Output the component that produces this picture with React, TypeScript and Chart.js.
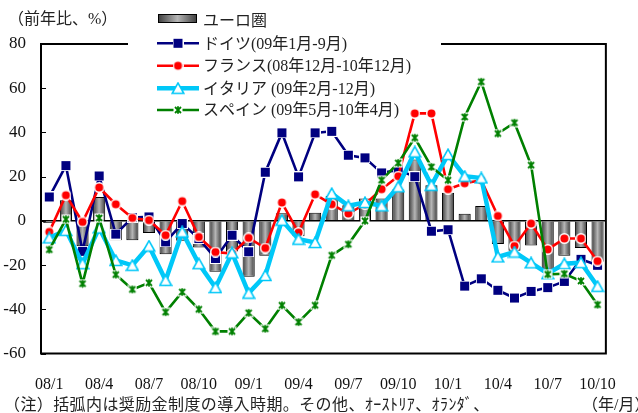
import React, { useEffect, useRef } from 'react';
import { Chart, registerables } from 'chart.js';

Chart.register(...registerables);

const months = [
  '08/1', '08/2', '08/3', '08/4', '08/5', '08/6', '08/7', '08/8', '08/9', '08/10', '08/11', '08/12',
  '09/1', '09/2', '09/3', '09/4', '09/5', '09/6', '09/7', '09/8', '09/9', '09/10', '09/11', '09/12',
  '10/1', '10/2', '10/3', '10/4', '10/5', '10/6', '10/7', '10/8', '10/9', '10/10',
];

const euroArea = [
  -1, 9.3, -11.5, 10.8, -8.8, -8.8, -5.5, -15.1, -9, -12, -23, -14,
  -25.3, -15.8, 3.4, -7, 3.7, 11.2, 7.1, 10.1, 10.1, 14.2, 27.7, 16.1,
  12.7, 3.2, 6.7, -10.5, -13.5, -11.1, -22, -15.8, -12.3, -18.5,
];

const germany = [
  10.8, 25, -13.8, 20.3, -6, 1.5, 1.8, -9.5, -1.2, -8, -17, -6.5,
  -14, 22, 39.8, 19.9, 39.8, 40.5, 29.7, 28.5, 21.7, 23, 20, -4.7,
  -4, -29.5, -26.2, -31.4, -34.9, -31.9, -30.2, -27.4, -17.4, -20.1,
];

const france = [
  -5, 11.6, -0.5, 15.1, 7.5, 1.3, 0.3, -6.5, 8.9, -7.3, -14.1, -14.8,
  -7.7, -12.3, 8.3, -5.3, 12, 7.5, 3.3, 7.5, 14.3, 20.2, 48.6, 48.6,
  14.3, 17, 18.4, 2.2, -11.4, -1.2, -12.9, -8, -8, -18.2,
];

const italy = [
  -7.7, -4.3, -19.4, -3.2, -17.9, -20.1, -11.4, -26.9, -5, -19.4, -30.2, -14.5,
  -32.7, -24.7, 0.3, -8.3, -9.8, 12.4, 6.8, 8.3, 6.8, 15.4, 31.2, 16.1,
  30, 20.2, 19.4, -16.3, -14.1, -19, -23.9, -19.4, -18.9, -29.6,
];

const spain = [
  -13, 0.7, -28.4, 1.3, -24.3, -31, -28, -41.3, -32.2, -40, -50, -50,
  -41.6, -48.8, -38.2, -45.8, -38.2, -15.6, -10.6, 0, 18.4, 26.2, 37.6, 24.4,
  18.4, 47, 62.9, 39.5, 44.4, 25.2, -24.2, -23.9, -27.2, -37.9,
];

const legendLabels = [
  'ユーロ圏',
  'ドイツ(09年1月-9月)',
  'フランス(08年12月-10年12月)',
  'イタリア (09年2月-12月)',
  'スペイン (09年5月-10年4月)',
];

const NAVY = '#000080';
const RED = '#ff0000';
const CYAN = '#00c8f8';
const GREEN = '#008000';
const FONT = '"Liberation Serif", "Times New Roman", "Noto Sans CJK JP", serif';

function mk(w: number, h: number, draw: (c: CanvasRenderingContext2D) => void) {
  const cv = document.createElement('canvas');
  cv.width = w;
  cv.height = h;
  const c = cv.getContext('2d') as CanvasRenderingContext2D;
  draw(c);
  return cv;
}

function makeMarkers() {
  const square = mk(11, 11, (c) => {
    c.fillStyle = '#fff';
    c.fillRect(0, 0, 11, 11);
    c.fillStyle = NAVY;
    c.fillRect(1, 1, 9, 9);
  });
  const circle = mk(11, 11, (c) => {
    c.fillStyle = '#fff';
    c.beginPath();
    c.arc(5.5, 5.5, 5.5, 0, Math.PI * 2);
    c.fill();
    c.fillStyle = RED;
    c.beginPath();
    c.arc(5.5, 5.5, 4, 0, Math.PI * 2);
    c.fill();
  });
  const triangle = mk(14, 13, (c) => {
    c.beginPath();
    c.moveTo(7, 1.2);
    c.lineTo(12.8, 11.5);
    c.lineTo(1.2, 11.5);
    c.closePath();
    c.fillStyle = '#fff';
    c.fill();
    c.strokeStyle = CYAN;
    c.lineWidth = 1.6;
    c.stroke();
  });
  const star = mk(10, 10, (c) => {
    c.fillStyle = '#fff';
    c.fillRect(0.5, 0.5, 9, 9);
    c.strokeStyle = GREEN;
    c.lineWidth = 1.8;
    c.beginPath();
    c.moveTo(2, 2);
    c.lineTo(8, 8);
    c.moveTo(8, 2);
    c.lineTo(2, 8);
    c.moveTo(5, 1.2);
    c.lineTo(5, 8.8);
    c.stroke();
  });
  return { square, circle, triangle, star };
}

function barGradient(ctx: CanvasRenderingContext2D, x0: number, x1: number): any {
  if (!isFinite(x0) || !isFinite(x1) || x1 <= x0) return '#808080';
  const g = ctx.createLinearGradient(x0, 0, x1, 0);
  g.addColorStop(0, '#3c3c3c');
  g.addColorStop(0.5, '#b6b6b6');
  g.addColorStop(1, '#3c3c3c');
  return g;
}

export default function App() {
  const ref = useRef<HTMLCanvasElement | null>(null);

  useEffect(() => {
    document.body.style.margin = '0';
    const canvas = ref.current;
    if (!canvas) return;
    const m = makeMarkers();
    const lineSpecs = [
      { color: NAVY, width: 2.6, marker: m.square },
      { color: RED, width: 2.6, marker: m.circle },
      { color: CYAN, width: 4.5, marker: m.triangle },
      { color: GREEN, width: 2.6, marker: m.star },
    ];

    const decor = {
      id: 'decor',
      beforeDatasetsDraw(chart: any) {
        const { ctx, chartArea: a } = chart;
        const ys = chart.scales.y;
        ctx.save();
        ctx.strokeStyle = '#000';
        ctx.lineWidth = 1;
        ys.ticks.forEach((t: any) => {
          const y = Math.round(ys.getPixelForValue(t.value)) + 0.5;
          ctx.beginPath();
          ctx.moveTo(a.left, y);
          ctx.lineTo(a.left + 5, y);
          ctx.stroke();
        });
        ctx.lineWidth = 2;
        ctx.strokeRect(a.left, a.top, a.right - a.left, a.bottom - a.top);

        // legend
        ctx.fillStyle = '#fff';
        ctx.fillRect(128, 0, 313, 100);
        const rowY = [20.7, 43.3, 65.7, 88.3, 110];
        ctx.fillStyle = barGradient(ctx, 158, 197);
        ctx.fillRect(158, 14, 39, 9);
        ctx.strokeStyle = '#000';
        ctx.lineWidth = 1;
        ctx.strokeRect(158.5, 14.5, 38, 8);
        lineSpecs.forEach((s, i) => {
          const y = rowY[i + 1];
          ctx.strokeStyle = s.color;
          ctx.lineWidth = s.width;
          ctx.beginPath();
          ctx.moveTo(157, y);
          ctx.lineTo(199, y);
          ctx.stroke();
          ctx.drawImage(s.marker, 178 - s.marker.width / 2, y - s.marker.height / 2);
        });
        ctx.fillStyle = '#222';
        ctx.font = `16px ${FONT}`;
        ctx.textBaseline = 'middle';
        ctx.textAlign = 'left';
        legendLabels.forEach((t, i) => ctx.fillText(t, 203, rowY[i] + 1));
        ctx.restore();
      },
    };

    const chart = new Chart(canvas, {
      type: 'bar',
      data: {
        labels: months,
        datasets: [
          {
            type: 'line',
            label: legendLabels[4],
            data: spain,
            borderColor: GREEN,
            borderWidth: lineSpecs[3].width,
            pointStyle: m.star as any,
            pointRadius: 5,
            fill: false,
            tension: 0,
            order: 1,
          } as any,
          {
            type: 'line',
            label: legendLabels[3],
            data: italy,
            borderColor: CYAN,
            borderWidth: lineSpecs[2].width,
            pointStyle: m.triangle as any,
            pointRadius: 6,
            fill: false,
            tension: 0,
            order: 2,
          },
          {
            type: 'line',
            label: legendLabels[2],
            data: france,
            borderColor: RED,
            borderWidth: lineSpecs[1].width,
            pointStyle: m.circle as any,
            pointRadius: 5,
            fill: false,
            tension: 0,
            order: 3,
          },
          {
            type: 'line',
            label: legendLabels[1],
            data: germany,
            borderColor: NAVY,
            borderWidth: lineSpecs[0].width,
            pointStyle: m.square as any,
            pointRadius: 5,
            fill: false,
            tension: 0,
            order: 4,
          },
          {
            type: 'bar',
            label: legendLabels[0],
            data: euroArea,
            backgroundColor: (c: any) => {
              const xs = c.chart.scales && c.chart.scales.x;
              if (!xs || c.dataIndex === undefined) return '#808080';
              const x = xs.getPixelForValue(c.dataIndex);
              const w = (xs.width / months.length) * 0.73;
              return barGradient(c.chart.ctx, x - w / 2, x + w / 2);
            },
            borderColor: '#000',
            borderWidth: 1,
            barPercentage: 0.73,
            categoryPercentage: 1,
            order: 5,
          } as any,
        ],
      },
      options: {
        animation: false,
        responsive: false,
        devicePixelRatio: 1,
        layout: { padding: { top: 44, right: 15, bottom: 0, left: 0 } },
        plugins: {
          legend: { display: false },
          tooltip: { enabled: false },
        },
        scales: {
          x: {
            type: 'category',
            offset: true,
            grid: { display: false, drawTicks: false },
            border: { display: false },
            ticks: {
              autoSkip: false,
              maxRotation: 0,
              minRotation: 0,
              padding: 22,
              color: '#111',
              font: { family: FONT, size: 16 },
              callback: (_v: any, i: number) => (i % 3 === 0 ? months[i] : ''),
            },
            afterFit: (s: any) => {
              s.height = 59.5;
            },
          },
          y: {
            min: -60,
            max: 80,
            ticks: {
              stepSize: 20,
              padding: 15,
              color: '#111',
              font: { family: FONT, size: 17 },
            },
            grid: {
              drawTicks: false,
              color: (c: any) => (c.tick && c.tick.value === 0 ? '#000' : 'rgba(0,0,0,0)'),
              lineWidth: 1.5,
            },
            border: { display: false },
            afterFit: (s: any) => {
              s.width = 41;
            },
          },
        },
      } as any,
      plugins: [decor],
    });
    chart.update();
    return () => chart.destroy();
  }, []);

  const textStyle: React.CSSProperties = {
    position: 'absolute',
    fontFamily: FONT,
    fontSize: 16,
    lineHeight: '16px',
    color: '#222',
    whiteSpace: 'nowrap',
  };

  return (
    <div style={{ position: 'relative', width: 638, height: 413, overflow: 'hidden', background: '#fff' }}>
      <canvas ref={ref} width={638} height={413} style={{ display: 'block', width: 638, height: 413 }} />
      <div style={{ ...textStyle, left: 8, top: 11 }}>（前年比、%）</div>
      <div style={{ ...textStyle, left: 4, top: 397, letterSpacing: '0.4px' }}>（注）括弧内は奨励金制度の導入時期。その他、ｵｰｽﾄﾘｱ、ｵﾗﾝﾀﾞ、</div>
      <div style={{ ...textStyle, left: 582, top: 397 }}>（年/月）</div>
    </div>
  );
}
